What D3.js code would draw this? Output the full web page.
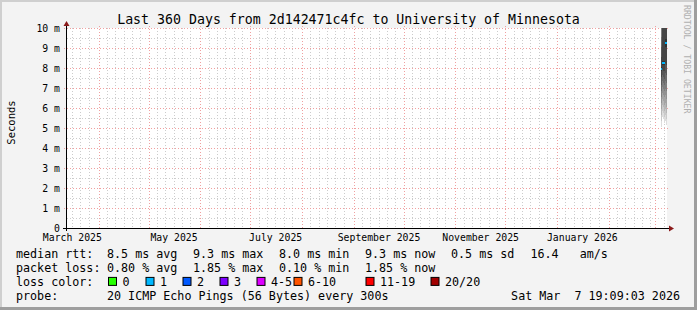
<!DOCTYPE html>
<html>
<head>
<meta charset="utf-8">
<script src="https://cdn.jsdelivr.net/npm/d3@7"></script>
<style>
  html, body { margin: 0; padding: 0; background: #f3f3f3; }
  svg { display: block; }
  text { font-family: "DejaVu Sans Mono", monospace; white-space: pre; }
</style>
</head>
<body>
<svg id="chart"></svg>
<script>
// ---- data ----
const title = "Last 360 Days from 2d142471c4fc to University of Minnesota";
const endTime = new Date(2026, 2, 7, 19, 9, 3);
const yTicks = [0, 1, 2, 3, 4, 5, 6, 7, 8, 9, 10];            // ms
const labelMonths = [new Date(2025, 2, 1), new Date(2025, 4, 1), new Date(2025, 6, 1),
                     new Date(2025, 8, 1), new Date(2025, 10, 1), new Date(2026, 0, 1)];
const monthLabels = ["March 2025", "May 2025", "July 2025", "September 2025", "November 2025", "January 2026"];

// 12h consolidated points, each one ends at its time
const pointEnds = [new Date(2026, 2, 4, 12), new Date(2026, 2, 5, 0), new Date(2026, 2, 5, 12),
                   new Date(2026, 2, 6, 0), new Date(2026, 2, 6, 12), new Date(2026, 2, 7, 0),
                   new Date(2026, 2, 7, 12), new Date(2026, 2, 8, 0)];
const medianMs = [8.0, 8.0, 8.3, 8.3, 8.3, 9.3, 9.3, 9.3];
const lossPct = [0.10, 0.10, 0.45, 0.45, 0.80, 1.85, 1.85, 1.85];
// 20 sorted pings per point (ms)
const pings = [
  [5.1, 5.4, 5.7, 6.0, 6.3, 6.6, 6.9, 7.2, 7.6, 7.9, 8.1, 8.6, 9.1, 9.6, 10.2, 11, 12, 13, 15, 18],
  [5.2, 5.5, 5.8, 6.1, 6.4, 6.7, 7.0, 7.3, 7.6, 7.9, 8.1, 8.7, 9.3, 9.9, 10.5, 11, 12, 13, 15, 18],
  [5.6, 5.9, 6.2, 6.5, 6.8, 7.1, 7.4, 7.7, 8.0, 8.2, 8.4, 10.2, 11, 12, 13, 14, 15, 16, 18, 20],
  [5.5, 5.8, 6.1, 6.4, 6.7, 7.0, 7.3, 7.6, 7.9, 8.2, 8.4, 10.4, 11, 12, 13, 14, 15, 16, 18, 20],
  [5.3, 5.6, 5.9, 6.2, 6.6, 6.9, 7.2, 7.5, 7.9, 8.2, 8.4, 10.6, 11, 12, 13, 14, 15, 16, 18, 20],
  [5.4, 5.7, 6.0, 6.3, 6.7, 7.0, 7.4, 7.8, 8.3, 9.1, 9.5, 10.8, 11, 12, 13, 14, 15, 16, 18, 20],
  [5.2, 5.5, 5.8, 6.1, 6.5, 6.9, 7.3, 7.7, 8.2, 9.1, 9.5, 10.8, 11, 12, 13, 14, 15, 16, 18, 20],
  [5.2, 5.5, 5.8, 6.1, 6.5, 6.9, 7.3, 7.7, 8.2, 9.1, 9.5, 10.8, 11, 12, 13, 14, 15, 16, 18, 20]
];

// legend numbers (as printed)
const rttStats = [["8.5", "ms avg"], ["9.3", "ms max"], ["8.0", "ms min"], ["9.3", "ms now"], ["0.5", "ms sd"], ["16.4", "  am/s"]];
const lossStats = [["0.80", "% avg"], ["1.85", "% max"], ["0.10", "% min"], ["1.85", "% now"]];
const lossKeys = ["0", "1", "2", "3", "4-5", "6-10", "11-19", "20/20"];
const lossKeyMax = [0, 1, 2, 3, 5, 10, 19, 20];   // pings lost out of 20
const lossKeyColors = ["#26ff00", "#00b8ff", "#0059ff", "#7e00ff", "#dd00ff", "#ff5500", "#ff0000", "#a10000"];
const probeText = "20 ICMP Echo Pings (56 Bytes) every 300s";
const stampText = "Sat Mar  7 19:09:03 2026";

// ---- layout ----
const W = 697, H = 310;
const plot = { left: 67, right: 667, top: 28, bottom: 228 };
const svg = d3.select("#chart").attr("width", W).attr("height", H);

// frame
svg.append("rect").attr("width", W).attr("height", H).attr("fill", "#f3f3f3");
svg.append("path").attr("d", `M0,0H${W}V2H2V${H}H0Z`).attr("fill", "#cfcfcf");
svg.append("path").attr("d", `M${W},${H}H0V${H - 3}H${W - 3}V0H${W}Z`).attr("fill", "#9e9e9e");

// canvas
svg.append("rect")
  .attr("x", plot.left).attr("y", plot.top)
  .attr("width", plot.right - plot.left).attr("height", plot.bottom - plot.top)
  .attr("fill", "#ffffff");

const startTime = d3.timeDay.offset(endTime, -360);
const x = d3.scaleTime().domain([startTime, endTime]).range([plot.left, plot.right]);
const y = d3.scaleLinear().domain([0, 10]).range([plot.bottom + 0.5, plot.top + 0.5]);
const px = v => Math.floor(v) + 0.5;

const grid = svg.append("g").attr("fill", "none").attr("stroke-width", 1);

// minor grid: every 5 days inside each month
const minorDays = d3.timeDay.every(5).range(startTime, endTime).filter(d => d.getDate() > 1 && d.getDate() <= 26);
grid.selectAll(".vminor").data(minorDays)
  .join("line")
  .attr("x1", d => px(x(d))).attr("x2", d => px(x(d)))
  .attr("y1", plot.top).attr("y2", plot.bottom)
  .attr("stroke", "#cccccc").attr("stroke-dasharray", "1,2");
grid.selectAll(".hminor").data(d3.range(0.5, 10, 1))
  .join("line")
  .attr("x1", plot.left).attr("x2", plot.right)
  .attr("y1", d => y(d)).attr("y2", d => y(d))
  .attr("stroke", "#cccccc").attr("stroke-dasharray", "1,2");

// major grid
grid.selectAll(".vmajor").data(d3.timeMonth.range(startTime, endTime))
  .join("line")
  .attr("x1", d => px(x(d))).attr("x2", d => px(x(d)))
  .attr("y1", plot.top - 2).attr("y2", plot.bottom + 2)
  .attr("stroke", "#f0a0a0").attr("stroke-dasharray", "1,2");
grid.selectAll(".hmajor").data(yTicks.slice(1))
  .join("line")
  .attr("x1", plot.left - 3).attr("x2", plot.right + 3)
  .attr("y1", d => y(d)).attr("y2", d => y(d))
  .attr("stroke", "#f0a0a0").attr("stroke-dasharray", "1,2");

// smoke: bands from ping i to ping n-1-i, outer bands lighter
svg.append("clipPath").attr("id", "plotclip").append("rect")
  .attr("x", plot.left).attr("y", plot.top)
  .attr("width", plot.right - plot.left).attr("height", plot.bottom - plot.top);
const smoke = svg.append("g").attr("clip-path", "url(#plotclip)").attr("shape-rendering", "crispEdges");
const half = 10;
pointEnds.forEach((t, k) => {
  const x0 = x(d3.timeHour.offset(t, -12)), x1 = x(t);
  const p = pings[k];
  for (let i = 0; i < half; i++) {
    const g = Math.round(190 / half * (half - 1 - i)) + 50;
    smoke.append("rect")
      .attr("x", x0).attr("width", x1 - x0)
      .attr("y", y(p[19 - i])).attr("height", y(p[i]) - y(p[19 - i]))
      .attr("fill", d3.rgb(g, g, g));
  }
});

// median line colored by loss
const lossColor = l => {
  const lost = l / 100 * 20;
  const idx = lossKeyMax.findIndex(m => lost <= m && (m > 0 || lost === 0));
  return lossKeyColors[idx];
};
pointEnds.forEach((t, k) => {
  const x0 = x(d3.timeHour.offset(t, -12)), x1 = Math.min(x(t), plot.right);
  smoke.append("rect")
    .attr("x", x0).attr("width", x1 - x0)
    .attr("y", y(medianMs[k]) - 1).attr("height", 2)
    .attr("fill", lossColor(lossPct[k]));
});

// axes
const axisColor = "#000000", arrowColor = "#8b1a1a";
svg.append("line").attr("x1", plot.left - 0.5).attr("x2", plot.left - 0.5)
  .attr("y1", plot.bottom + 3).attr("y2", plot.top - 5).attr("stroke", axisColor);
svg.append("line").attr("x1", plot.left - 4).attr("x2", plot.right + 4)
  .attr("y1", plot.bottom + 0.5).attr("y2", plot.bottom + 0.5).attr("stroke", axisColor);
svg.append("path").attr("fill", arrowColor)
  .attr("d", `M${plot.left - 3.5},${plot.top - 2}L${plot.left + 2.5},${plot.top - 2}L${plot.left - 0.5},${plot.top - 7}Z`);
svg.append("path").attr("fill", arrowColor)
  .attr("d", `M${plot.right + 2},${plot.bottom - 2.5}L${plot.right + 2},${plot.bottom + 3.5}L${plot.right + 7},${plot.bottom + 0.5}Z`);

// y labels
svg.append("g").selectAll("text").data(yTicks).join("text")
  .attr("x", 60).attr("y", d => y(d) + 3.5)
  .attr("text-anchor", "end").attr("font-size", "9.8px").attr("fill", "#000")
  .text(d => d === 0 ? "0" : d + " m");

// x labels at mid-month
svg.append("g").selectAll("text").data(labelMonths).join("text")
  .attr("x", d => x(d3.timeDay.offset(d, 15))).attr("y", 240.5)
  .attr("text-anchor", "middle").attr("font-size", "9.8px").attr("fill", "#000")
  .text((d, i) => monthLabels[i]);

// title and axis title
svg.append("text").attr("x", W / 2).attr("y", 23.5).attr("text-anchor", "middle")
  .attr("font-size", "13.25px").text(title);
svg.append("text").attr("transform", "translate(14.5,122.5) rotate(-90)")
  .attr("text-anchor", "middle").attr("font-size", "10.5px").text("Seconds");
svg.append("text").attr("transform", "translate(684,5) rotate(90)")
  .attr("font-size", "8.2px").attr("fill", "#b0b0b0").text("RRDTOOL / TOBI OETIKER");

// legend (items sit on tab stops)
const lg = svg.append("g").attr("font-size", "11.7px").attr("fill", "#000");
const rows = [257.5, 271.7, 285.9, 300.1];
const labelX = 16;
lg.append("text").attr("x", labelX).attr("y", rows[0]).text("median rtt:");
lg.append("text").attr("x", labelX).attr("y", rows[1]).text("packet loss:");
lg.append("text").attr("x", labelX).attr("y", rows[2]).text("loss color:");
lg.append("text").attr("x", labelX).attr("y", rows[3]).text("probe:");

const tabX = [107, 193, 279, 365, 451, 530.5];
lg.selectAll(".rtt").data(rttStats).join("text")
  .attr("x", (d, i) => tabX[i]).attr("y", rows[0]).text(d => d[0] + " " + d[1]);
lg.selectAll(".loss").data(lossStats).join("text")
  .attr("x", (d, i) => tabX[i]).attr("y", rows[1]).text(d => d[0] + " " + d[1]);

const keyX = [108, 145.5, 182.5, 219.5, 256.5, 293.5, 365.5, 430.5];
lossKeys.forEach((k, i) => {
  lg.append("rect").attr("x", keyX[i] + 0.5).attr("y", rows[2] - 8.5).attr("width", 8).attr("height", 8)
    .attr("fill", lossKeyColors[i]).attr("stroke", "#000").attr("stroke-width", 1);
  lg.append("text").attr("x", keyX[i] + 14.5).attr("y", rows[2]).text(k);
});

lg.append("text").attr("x", 107).attr("y", rows[3]).text(probeText);
lg.append("text").attr("x", 680).attr("y", rows[3]).attr("text-anchor", "end").text(stampText);
</script>
</body>
</html>
